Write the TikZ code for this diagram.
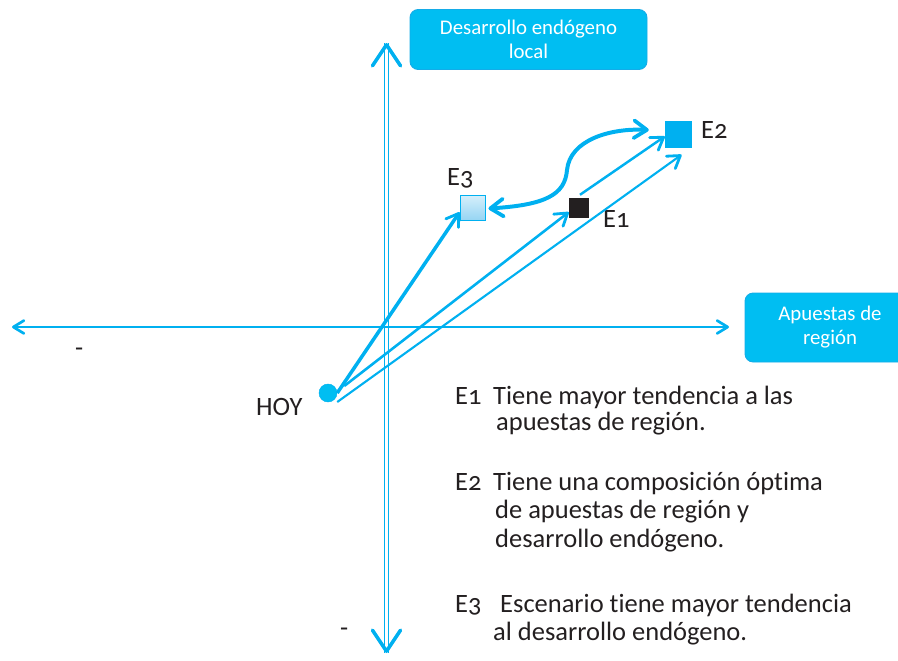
\documentclass[tikz,border=0pt]{standalone}
\usepackage{fontspec}
\setmainfont{Carlito}[Numbers=OldStyle, Ligatures=NoCommon]
\usetikzlibrary{arrows.meta, positioning, calc}
\definecolor{cyanline}{RGB}{0,176,240}
\definecolor{cyanbox}{RGB}{0,190,242}
\definecolor{cyanedge}{RGB}{20,172,232}
\definecolor{inkgray}{RGB}{35,31,32}
\definecolor{paleblue}{RGB}{214,239,251}
\definecolor{midblue}{RGB}{150,213,243}
\tikzset{
  axisbox/.style={draw=cyanedge, fill=cyanbox, line width=0.8pt, rounded corners=7pt,
    text=white, align=center, font=\fontsize{17.8}{20.5}\selectfont},
  txt/.style={anchor=base west, inner sep=0pt},
  trend/.style={draw=cyanline, -{Straight Barb[length=10pt, width=13pt, line width=2.4pt, round]}},
  bigtip/.style={cyanline, -{Straight Barb[length=18pt, width=24pt, line width=3pt, round]}},
  smalltip/.tip={Straight Barb[length=9pt, width=11pt, line width=2.3pt, round]},
  swingtip/.tip={Straight Barb[length=11pt, width=15pt, line width=3.2pt, round]}
}
\begin{document}
\begin{tikzpicture}[x=0.03cm, y=-0.03cm, >=Stealth,
    every node/.style={font=\fontsize{22.6}{24}\selectfont, text=inkgray}]
  \useasboundingbox (0,0) rectangle (898,660);
  \clip (0,0) rectangle (898,660);

  % Axes
  \coordinate (vtop) at (386.5,43);
  \coordinate (vbot) at (386.5,653);
  \coordinate (hleft) at (12,327);
  \coordinate (hright) at (729,327);
  \draw[cyanline, line width=1.4pt] ([xshift=-1.6pt]vtop) -- ([xshift=-1.6pt]vbot);
  \draw[cyanline, line width=1.4pt] ([xshift=1.6pt]vtop) -- ([xshift=1.6pt]vbot);
  \draw[bigtip] ($(vtop)+(0,2)$) -- (vtop);
  \draw[bigtip] ($(vbot)+(0,-2)$) -- (vbot);
  \draw[cyanline, line width=1.7pt, smalltip-smalltip] (hleft) -- (hright);

  % Axis labels
  \node[axisbox, minimum width=7.11cm, minimum height=1.8cm] (vlabel) at (528.5,39.5)
    {Desarrollo endógeno\\local};
  \node[axisbox, minimum width=5.1cm, minimum height=2.07cm] (hlabel) at (830,327.5)
    {Apuestas de\\región};
  \node[txt] (dashl) at (75,356) {-};
  \node[txt] (dashb) at (340,636) {-};

  % Today and scenarios
  \node[circle, draw=cyanline, fill=cyanbox, minimum size=0.54cm, inner sep=0pt] (hoy) at (328,393) {};
  \node[txt] (hoylbl) at (256,415) {HOY};
  \node[draw=cyanline, line width=0.8pt, top color=paleblue, bottom color=midblue,
    minimum size=0.75cm, inner sep=0pt] (e3) at (472.5,207.5) {};
  \node[fill=inkgray, minimum size=0.6cm, inner sep=0pt] (e1) at (579,208) {};
  \node[fill=cyanline, minimum size=0.81cm, inner sep=0pt] (e2) at (678.5,134) {};
  \node[txt] (e3lbl) at (447,185) {E3};
  \node[txt] (e1lbl) at (603,227) {E1};
  \node[txt] (e2lbl) at (701,138) {E2};

  % Trajectories
  \draw[trend, line width=3pt] (hoy.east) -- (e3.200);
  \draw[trend, line width=2.2pt] ($(hoy.east)+(7,-7)$) -- (e1.202);
  \draw[trend, line width=1.8pt] ($(hoy.east)+(0,9)$) -- ($(e2.south)+(3,7)$);
  \draw[trend, line width=2.1pt] ($(e1.north)+(1,-3)$) -- (e2.190);
  \coordinate (swing) at ($(e2.west)+(-16,-4)$);
  \draw[cyanline, line width=3.4pt, swingtip-swingtip]
    ($(e3.east)+(3,1)$) .. controls (545,205) and (565,195) .. (567,170)
    .. controls (570,140) and (610,128) .. (swing);

  % Legend
  \node[txt] (t1a) at (455,404) {E1};
  \node[txt] (t1b) at (493,404) {Tiene mayor tendencia a las};
  \node[txt] (t1c) at (496,430) {apuestas de región.};
  \node[txt] (t2a) at (455,490) {E2};
  \node[txt] (t2b) at (493,490) {Tiene una composición óptima};
  \node[txt] (t2c) at (495,518) {de apuestas de región y};
  \node[txt] (t2d) at (495,547) {desarrollo endógeno.};
  \node[txt] (t3a) at (455,612) {E3};
  \node[txt] (t3b) at (500,612) {Escenario tiene mayor tendencia};
  \node[txt] (t3c) at (493,640) {al desarrollo endógeno.};
\end{tikzpicture}
\end{document}
